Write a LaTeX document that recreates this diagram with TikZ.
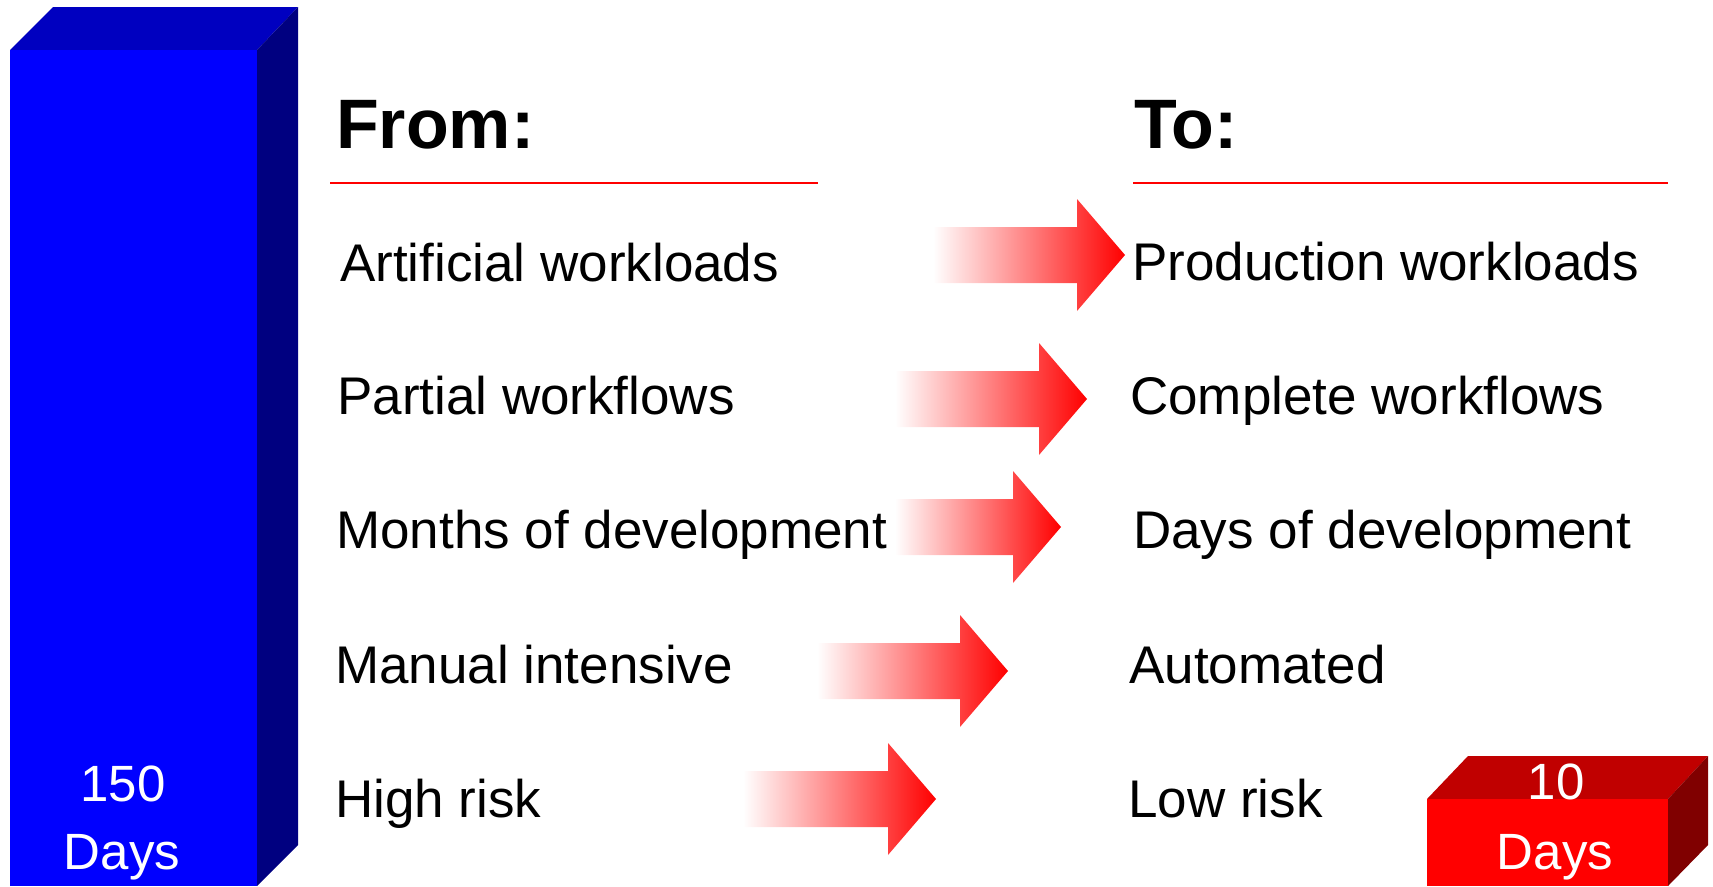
\documentclass[tikz,border=0pt]{standalone}
\usepackage{fontspec}
\setmainfont{Liberation Sans}
\usetikzlibrary{positioning}

\definecolor{barfront}{RGB}{0,0,255}
\definecolor{bartop}{RGB}{0,0,192}
\definecolor{barside}{RGB}{0,0,128}
\definecolor{boxfront}{RGB}{255,0,0}
\definecolor{boxtop}{RGB}{192,0,0}
\definecolor{boxside}{RGB}{128,0,0}

\tikzstyle{heading}=[inner sep=0pt,anchor=base west,font=\fontsize{70}{84}\selectfont\bfseries]
\tikzstyle{item}=[inner sep=0pt,anchor=base west,font=\fontsize{53}{64}\selectfont]
\tikzstyle{days}=[inner sep=0pt,anchor=base,text=white,font=\fontsize{51}{61}\selectfont]
\tikzstyle{rule}=[draw=red,line width=1.6pt]
\tikzstyle{fadearrow}=[left color=white,right color=red]

\begin{document}
\begin{tikzpicture}[x=1pt,y=-1pt]
			\useasboundingbox (0,0) rectangle (1713,886);

			% blue bar
			\fill[bartop] (10,50) -- (53,7) -- (298,7) -- (257,50) -- cycle;
			\fill[barside] (257,50) -- (298,7) -- (298,845) -- (257,886) -- cycle;
			\fill[barfront] (10,50) rectangle (257,886);
			\node[days] (long) at (123,801) {150};
			\node[days] (longdays) at (122,869) {Days};

			% red box
			\fill[boxtop] (1427,799) -- (1468,756) -- (1708,756) -- (1668,799) -- cycle;
			\fill[boxside] (1668,799) -- (1708,756) -- (1708,845) -- (1668,886) -- cycle;
			\fill[boxfront] (1427,799) rectangle (1668,886);
			\node[days] (short) at (1556,799) {10};
			\node[days] (shortdays) at (1555,869) {Days};

			% headings
			\node[heading] (from) at (336,148) {From:};
			\node[heading] (to) at (1134,148) {To:};
			\draw[rule] (330,183) -- (818,183);
			\draw[rule] (1133,183) -- (1668,183);

			% rows
			\foreach \txt/\x/\y [count=\i] in {Artificial workloads/340/281,
					Partial workflows/337/414, Months of development/336/548,
					Manual intensive/335/683, High risk/335/817}
				\node[item] (from\i) at (\x,\y) {\txt};
			\foreach \txt/\x/\y [count=\i] in {Production workloads/1132/280,
					Complete workflows/1130/414, Days of development/1133/548,
					Automated/1129/683, Low risk/1128/817}
				\node[item] (to\i) at (\x,\y) {\txt};

			% arrows
			\foreach \sx/\hx/\cy in {933/1077/255, 895/1039/399, 895/1013/527,
					817/960/671, 743/888/799}
				\shade[fadearrow] (\sx,\cy-28) -- (\hx,\cy-28) -- (\hx,\cy-56)
					-- (\hx+48,\cy) -- (\hx,\cy+56) -- (\hx,\cy+28) -- (\sx,\cy+28) -- cycle;
		\end{tikzpicture}
\end{document}
